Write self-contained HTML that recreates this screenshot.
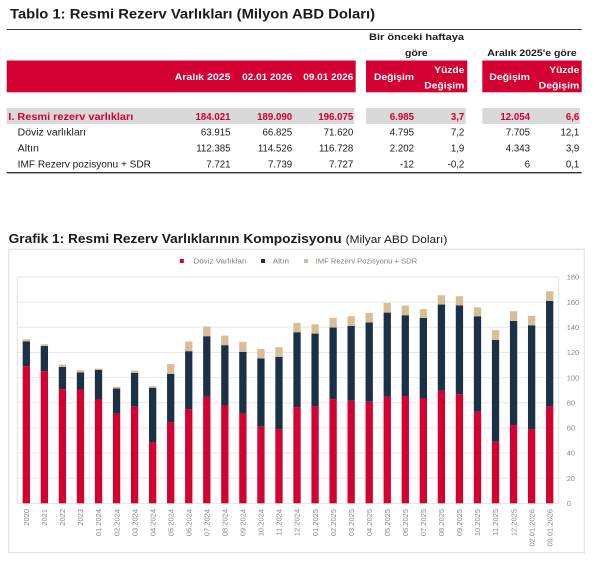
<!DOCTYPE html>
<html><head><meta charset="utf-8"><style>
html,body{margin:0;padding:0;background:#fff;}
svg{display:block;}
text{font-family:"Liberation Sans",sans-serif;}
</style></head><body>
<svg width="612" height="588" viewBox="0 0 612 588" xmlns="http://www.w3.org/2000/svg">
<rect width="612" height="588" fill="#fff"/>
<!-- Table -->
<text x="10" y="18.5" font-size="14" font-weight="bold" fill="#1a1a1a" textLength="365" lengthAdjust="spacingAndGlyphs">Tablo 1: Resmi Rezerv Varlıkları (Milyon ABD Doları)</text>
<line x1="6.7" y1="29.5" x2="581.7" y2="29.5" stroke="#333" stroke-width="1"/>
<g font-size="9.5" font-weight="bold" fill="#1a1a1a">
<text x="369" y="40" textLength="95" lengthAdjust="spacingAndGlyphs">Bir önceki haftaya</text>
<text x="405" y="56" textLength="22.7" lengthAdjust="spacingAndGlyphs">göre</text>
<text x="487.3" y="56" textLength="89.4" lengthAdjust="spacingAndGlyphs">Aralık 2025'e göre</text>
</g>
<rect x="6.7" y="60.5" width="349" height="31.8" fill="#d40032"/>
<rect x="366" y="60.5" width="101.3" height="31.8" fill="#d40032"/>
<rect x="482.3" y="60.5" width="99.4" height="31.8" fill="#d40032"/>
<g font-size="9.5" font-weight="bold" fill="#fff">
<text x="174.6" y="80" textLength="56" lengthAdjust="spacingAndGlyphs">Aralık 2025</text>
<text x="242.2" y="80" textLength="50" lengthAdjust="spacingAndGlyphs">02.01 2026</text>
<text x="303.3" y="80" textLength="50" lengthAdjust="spacingAndGlyphs">09.01 2026</text>
<text x="374" y="80" textLength="40" lengthAdjust="spacingAndGlyphs">Değişim</text>
<text x="434.3" y="73" textLength="30" lengthAdjust="spacingAndGlyphs">Yüzde</text>
<text x="424.3" y="88.5" textLength="40" lengthAdjust="spacingAndGlyphs">Değişim</text>
<text x="489.3" y="80" textLength="40.7" lengthAdjust="spacingAndGlyphs">Değişim</text>
<text x="549.3" y="73" textLength="30" lengthAdjust="spacingAndGlyphs">Yüzde</text>
<text x="538.7" y="88.5" textLength="40.6" lengthAdjust="spacingAndGlyphs">Değişim</text>
</g>
<rect x="6.7" y="108" width="347.6" height="16" fill="#d9d9d9"/>
<rect x="366" y="108" width="99.7" height="16" fill="#d9d9d9"/>
<rect x="482.3" y="108" width="97.7" height="16" fill="#d9d9d9"/>
<g font-size="9.7" font-weight="bold" fill="#d40032">
<text x="8.3" y="119.8" textLength="125" lengthAdjust="spacingAndGlyphs">I. Resmi rezerv varlıkları</text>
<g text-anchor="end">
<text x="230.5" y="119.8">184.021</text>
<text x="292.2" y="119.8">189.090</text>
<text x="353.3" y="119.8">196.075</text>
<text x="414" y="119.8">6.985</text>
<text x="464.3" y="119.8">3,7</text>
<text x="530" y="119.8">12.054</text>
<text x="579.3" y="119.8">6,6</text>
</g></g>
<g font-size="9.7" fill="#1a1a1a">
<text x="17.7" y="135.7" textLength="68.3" lengthAdjust="spacingAndGlyphs">Döviz varlıkları</text>
<text x="17.7" y="151.7" textLength="21.3" lengthAdjust="spacingAndGlyphs">Altın</text>
<text x="17.7" y="167.7" textLength="133.3" lengthAdjust="spacingAndGlyphs">IMF Rezerv pozisyonu + SDR</text>
<g text-anchor="end">
<text x="230.5" y="135.7">63.915</text><text x="292.2" y="135.7">66.825</text><text x="353.3" y="135.7">71.620</text><text x="414" y="135.7">4.795</text><text x="464.3" y="135.7">7,2</text><text x="530" y="135.7">7.705</text><text x="579.3" y="135.7">12,1</text>
<text x="230.5" y="151.7">112.385</text><text x="292.2" y="151.7">114.526</text><text x="353.3" y="151.7">116.728</text><text x="414" y="151.7">2.202</text><text x="464.3" y="151.7">1,9</text><text x="530" y="151.7">4.343</text><text x="579.3" y="151.7">3,9</text>
<text x="230.5" y="167.7">7.721</text><text x="292.2" y="167.7">7.739</text><text x="353.3" y="167.7">7.727</text><text x="414" y="167.7">-12</text><text x="464.3" y="167.7">-0,2</text><text x="530" y="167.7">6</text><text x="579.3" y="167.7">0,1</text>
</g></g>
<line x1="6.7" y1="172.7" x2="581.7" y2="172.7" stroke="#333" stroke-width="1.3"/>

<!-- Chart title -->
<text x="8.6" y="242.8" font-size="13" font-weight="bold" fill="#1a1a1a" textLength="333" lengthAdjust="spacingAndGlyphs">Grafik 1: Resmi Rezerv Varlıklarının Kompozisyonu</text>
<text x="345.7" y="242.8" font-size="11" fill="#1a1a1a" textLength="101.6" lengthAdjust="spacingAndGlyphs">(Milyar ABD Doları)</text>

<!-- Chart box -->
<rect x="8.7" y="249.3" width="575.6" height="303.4" fill="#fff" stroke="#e2e2e2" stroke-width="1.2"/>
<!-- Legend -->
<rect x="179.8" y="259" width="4" height="4" fill="#d50032"/>
<rect x="261" y="259" width="4" height="4" fill="#1d3146"/>
<rect x="304" y="259" width="4" height="4" fill="#d8be97"/>
<g font-size="7.5" fill="#808080">
<text x="193.4" y="263.6" textLength="53.5" lengthAdjust="spacingAndGlyphs">Döviz Varlıkları</text>
<text x="272.7" y="263.6" textLength="16.3" lengthAdjust="spacingAndGlyphs">Altın</text>
<text x="315.6" y="263.6" textLength="101.6" lengthAdjust="spacingAndGlyphs">IMF Rezerv Pozisyonu + SDR</text>
</g>
<!-- Grid -->
<g stroke="#e8e8e8" stroke-width="1">
<line x1="17.3" y1="478.16" x2="558.7" y2="478.16"/>
<line x1="17.3" y1="453.01" x2="558.7" y2="453.01"/>
<line x1="17.3" y1="427.87" x2="558.7" y2="427.87"/>
<line x1="17.3" y1="402.72" x2="558.7" y2="402.72"/>
<line x1="17.3" y1="377.58" x2="558.7" y2="377.58"/>
<line x1="17.3" y1="352.44" x2="558.7" y2="352.44"/>
<line x1="17.3" y1="327.29" x2="558.7" y2="327.29"/>
<line x1="17.3" y1="302.15" x2="558.7" y2="302.15"/>
</g>
<rect x="17.3" y="277" width="541.4" height="226.3" fill="none" stroke="#e2e2e2" stroke-width="1"/>
<!-- Y labels -->
<g font-size="7.5" fill="#888">
<text x="566.7" y="279.7">180</text>
<text x="566.7" y="304.8">160</text>
<text x="566.7" y="330">140</text>
<text x="566.7" y="355.1">120</text>
<text x="566.7" y="380.3">100</text>
<text x="566.7" y="405.4">80</text>
<text x="566.7" y="430.6">60</text>
<text x="566.7" y="455.7">40</text>
<text x="566.7" y="480.9">20</text>
<text x="566.7" y="506">0</text>
</g>
<!-- Bars -->
<g transform="translate(0,503.3) scale(1,-1.2572)">
<g fill="#d50032">
<rect x="22.67" y="0" width="7.3" height="109.1"/>
<rect x="40.72" y="0" width="7.3" height="105.1"/>
<rect x="58.77" y="0" width="7.3" height="90.8"/>
<rect x="76.81" y="0" width="7.3" height="90.5"/>
<rect x="94.86" y="0" width="7.3" height="82.6"/>
<rect x="112.91" y="0" width="7.3" height="71.2"/>
<rect x="130.95" y="0" width="7.3" height="76.8"/>
<rect x="149.0" y="0" width="7.3" height="48.7"/>
<rect x="167.05" y="0" width="7.3" height="64.6"/>
<rect x="185.09" y="0" width="7.3" height="74.9"/>
<rect x="203.14" y="0" width="7.3" height="84.7"/>
<rect x="221.19" y="0" width="7.3" height="77.8"/>
<rect x="239.23" y="0" width="7.3" height="71.5"/>
<rect x="257.28" y="0" width="7.3" height="60.9"/>
<rect x="275.33" y="0" width="7.3" height="58.8"/>
<rect x="293.37" y="0" width="7.3" height="76.5"/>
<rect x="311.42" y="0" width="7.3" height="77.3"/>
<rect x="329.47" y="0" width="7.3" height="82.9"/>
<rect x="347.51" y="0" width="7.3" height="81.5"/>
<rect x="365.56" y="0" width="7.3" height="80.8"/>
<rect x="383.61" y="0" width="7.3" height="84.7"/>
<rect x="401.65" y="0" width="7.3" height="85.3"/>
<rect x="419.70" y="0" width="7.3" height="83.4"/>
<rect x="437.75" y="0" width="7.3" height="89.5"/>
<rect x="455.79" y="0" width="7.3" height="86.8"/>
<rect x="473.84" y="0" width="7.3" height="72.8"/>
<rect x="491.89" y="0" width="7.3" height="49.0"/>
<rect x="509.93" y="0" width="7.3" height="62.2"/>
<rect x="527.98" y="0" width="7.3" height="58.8"/>
<rect x="546.03" y="0" width="7.3" height="76.8"/>
</g>
<g fill="#1d3146">
<rect x="22.67" y="109.1" width="7.3" height="19.8"/>
<rect x="40.72" y="105.1" width="7.3" height="20.1"/>
<rect x="58.77" y="90.8" width="7.3" height="17.7"/>
<rect x="76.81" y="90.5" width="7.3" height="13.6"/>
<rect x="94.86" y="82.6" width="7.3" height="23.6"/>
<rect x="112.91" y="71.2" width="7.3" height="20.1"/>
<rect x="130.95" y="76.8" width="7.3" height="27.0"/>
<rect x="149.0" y="48.7" width="7.3" height="43.2"/>
<rect x="167.05" y="64.6" width="7.3" height="38.4"/>
<rect x="185.09" y="74.9" width="7.3" height="46.1"/>
<rect x="203.14" y="84.7" width="7.3" height="48.2"/>
<rect x="221.19" y="77.8" width="7.3" height="48.0"/>
<rect x="239.23" y="71.5" width="7.3" height="49.0"/>
<rect x="257.28" y="60.9" width="7.3" height="54.3"/>
<rect x="275.33" y="58.8" width="7.3" height="57.7"/>
<rect x="293.37" y="76.5" width="7.3" height="59.6"/>
<rect x="311.42" y="77.3" width="7.3" height="57.7"/>
<rect x="329.47" y="82.9" width="7.3" height="56.9"/>
<rect x="347.51" y="81.5" width="7.3" height="59.6"/>
<rect x="365.56" y="80.8" width="7.3" height="63.0"/>
<rect x="383.61" y="84.7" width="7.3" height="67.0"/>
<rect x="401.65" y="85.3" width="7.3" height="64.3"/>
<rect x="419.70" y="83.4" width="7.3" height="64.1"/>
<rect x="437.75" y="89.5" width="7.3" height="68.6"/>
<rect x="455.79" y="86.8" width="7.3" height="70.7"/>
<rect x="473.84" y="72.8" width="7.3" height="76.0"/>
<rect x="491.89" y="49.0" width="7.3" height="81.0"/>
<rect x="509.93" y="62.2" width="7.3" height="82.9"/>
<rect x="527.98" y="58.8" width="7.3" height="82.8"/>
<rect x="546.03" y="76.8" width="7.3" height="84.2"/>
</g>
<g fill="#d8be97">
<rect x="22.67" y="128.9" width="7.3" height="1.6"/>
<rect x="40.72" y="125.2" width="7.3" height="1.4"/>
<rect x="58.77" y="108.5" width="7.3" height="1.9"/>
<rect x="76.81" y="104.1" width="7.3" height="1.8"/>
<rect x="94.86" y="106.2" width="7.3" height="1.0"/>
<rect x="112.91" y="91.3" width="7.3" height="1.4"/>
<rect x="130.95" y="103.8" width="7.3" height="1.8"/>
<rect x="149.0" y="91.9" width="7.3" height="1.3"/>
<rect x="167.05" y="103.0" width="7.3" height="7.7"/>
<rect x="185.09" y="121.0" width="7.3" height="7.7"/>
<rect x="203.14" y="132.9" width="7.3" height="7.7"/>
<rect x="221.19" y="125.8" width="7.3" height="7.6"/>
<rect x="239.23" y="120.5" width="7.3" height="7.9"/>
<rect x="257.28" y="115.2" width="7.3" height="7.6"/>
<rect x="275.33" y="116.5" width="7.3" height="7.7"/>
<rect x="293.37" y="136.1" width="7.3" height="7.4"/>
<rect x="311.42" y="135.0" width="7.3" height="7.4"/>
<rect x="329.47" y="139.8" width="7.3" height="7.7"/>
<rect x="347.51" y="141.1" width="7.3" height="7.7"/>
<rect x="365.56" y="143.8" width="7.3" height="7.6"/>
<rect x="383.61" y="151.7" width="7.3" height="7.7"/>
<rect x="401.65" y="149.6" width="7.3" height="7.7"/>
<rect x="419.70" y="147.5" width="7.3" height="6.9"/>
<rect x="437.75" y="158.1" width="7.3" height="7.4"/>
<rect x="455.79" y="157.5" width="7.3" height="7.2"/>
<rect x="473.84" y="148.8" width="7.3" height="7.1"/>
<rect x="491.89" y="130.0" width="7.3" height="7.7"/>
<rect x="509.93" y="145.1" width="7.3" height="7.7"/>
<rect x="527.98" y="141.6" width="7.3" height="7.5"/>
<rect x="546.03" y="161.0" width="7.3" height="7.7"/>
</g>
</g>
<!-- X labels -->
<g font-size="7.5" fill="#888" text-anchor="end">
<text transform="translate(29.02,509) rotate(-90)">2020</text>
<text transform="translate(47.07,509) rotate(-90)">2021</text>
<text transform="translate(65.12,509) rotate(-90)">2022</text>
<text transform="translate(83.16,509) rotate(-90)">2023</text>
<text transform="translate(101.21,509) rotate(-90)">01.2024</text>
<text transform="translate(119.26,509) rotate(-90)">02.2024</text>
<text transform="translate(137.30,509) rotate(-90)">03.2024</text>
<text transform="translate(155.35,509) rotate(-90)">04.2024</text>
<text transform="translate(173.40,509) rotate(-90)">05.2024</text>
<text transform="translate(191.44,509) rotate(-90)">06.2024</text>
<text transform="translate(209.49,509) rotate(-90)">07.2024</text>
<text transform="translate(227.54,509) rotate(-90)">08.2024</text>
<text transform="translate(245.58,509) rotate(-90)">09.2024</text>
<text transform="translate(263.63,509) rotate(-90)">10.2024</text>
<text transform="translate(281.68,509) rotate(-90)">11.2024</text>
<text transform="translate(299.72,509) rotate(-90)">12.2024</text>
<text transform="translate(317.77,509) rotate(-90)">01.2025</text>
<text transform="translate(335.82,509) rotate(-90)">02.2025</text>
<text transform="translate(353.86,509) rotate(-90)">03.2025</text>
<text transform="translate(371.91,509) rotate(-90)">04.2025</text>
<text transform="translate(389.96,509) rotate(-90)">05.2025</text>
<text transform="translate(408.00,509) rotate(-90)">06.2025</text>
<text transform="translate(426.05,509) rotate(-90)">07.2025</text>
<text transform="translate(444.10,509) rotate(-90)">08.2025</text>
<text transform="translate(462.14,509) rotate(-90)">09.2025</text>
<text transform="translate(480.19,509) rotate(-90)">10.2025</text>
<text transform="translate(498.24,509) rotate(-90)">11.2025</text>
<text transform="translate(516.28,509) rotate(-90)">12.2025</text>
<text transform="translate(534.33,509) rotate(-90)">02.01.2026</text>
<text transform="translate(552.38,509) rotate(-90)">09.01.2026</text>
</g>
</svg>
</body></html>
